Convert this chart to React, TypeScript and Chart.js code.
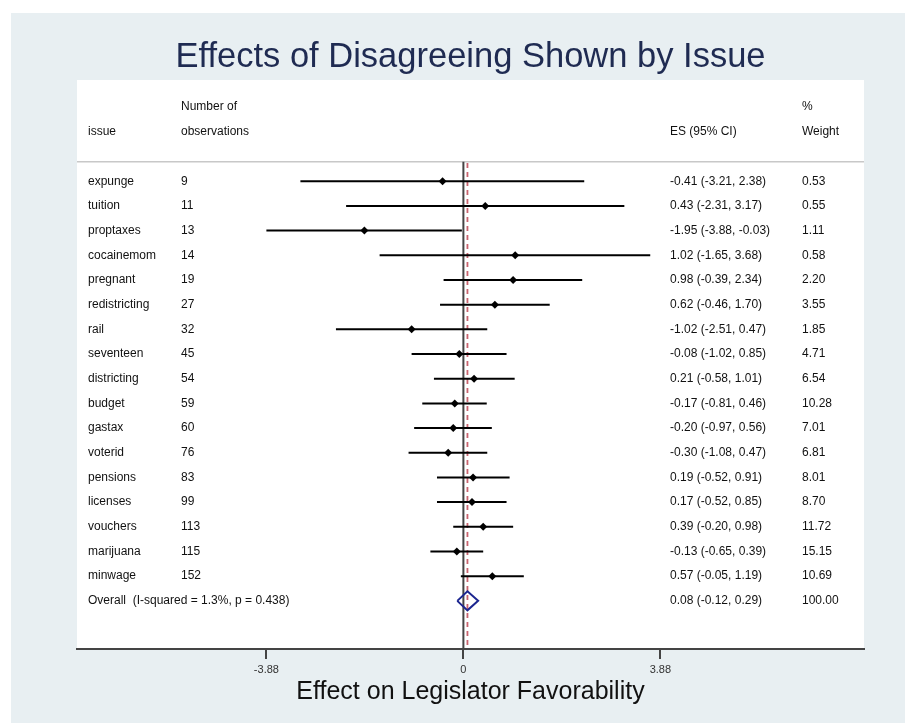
import React, { useEffect, useRef } from "react";
import { Chart, registerables } from "chart.js";

Chart.register(...registerables);

// ---------- data ----------
const issues = [
  "expunge", "tuition", "proptaxes", "cocainemom", "pregnant", "redistricting",
  "rail", "seventeen", "districting", "budget", "gastax", "voterid",
  "pensions", "licenses", "vouchers", "marijuana", "minwage",
];
const nObs = [9, 11, 13, 14, 19, 27, 32, 45, 54, 59, 60, 76, 83, 99, 113, 115, 152];
const es = [-0.41, 0.43, -1.95, 1.02, 0.98, 0.62, -1.02, -0.08, 0.21, -0.17, -0.2, -0.3, 0.19, 0.17, 0.39, -0.13, 0.57];
const ciLow = [-3.21, -2.31, -3.88, -1.65, -0.39, -0.46, -2.51, -1.02, -0.58, -0.81, -0.97, -1.08, -0.52, -0.52, -0.2, -0.65, -0.05];
const ciHigh = [2.38, 3.17, -0.03, 3.68, 2.34, 1.7, 0.47, 0.85, 1.01, 0.46, 0.56, 0.47, 0.91, 0.85, 0.98, 0.39, 1.19];
const weights = [0.53, 0.55, 1.11, 0.58, 2.2, 3.55, 1.85, 4.71, 6.54, 10.28, 7.01, 6.81, 8.01, 8.7, 11.72, 15.15, 10.69];

const overallLabel = "Overall  (I-squared = 1.3%, p = 0.438)";
const overallES = 0.08;
const overallLow = -0.12;
const overallHigh = 0.29;
const overallWeight = 100.0;

const xTicks = [-3.88, 0, 3.88];
const xTickLabels = ["-3.88", "0", "3.88"];

const titleText = "Effects of Disagreeing Shown by Issue";
const xAxisTitle = "Effect on Legislator Favorability";
const headerTop = ["", "Number of", "", "%"];
const headerBottom = ["issue", "observations", "ES (95% CI)", "Weight"];

// ---------- layout / style constants ----------
const FONT = "'Liberation Sans', Arial, Helvetica, sans-serif";
const X_MIN = -7.61;
const X_MAX = 7.89;
const Y_MIN = -4.1;
const Y_MAX = 18.95;
const HEADER_ROW_TOP = -3;
const HEADER_ROW_BOTTOM = -2;
const SEPARATOR_ROW = -0.79;
const DIAMOND_HALF = 0.385;
const COL_OFFSETS = [11, 104, 593, 725]; // px from chart-area left

const fmt = (v: number) => v.toFixed(2);

const bgPlugin = {
  id: "bgPlugin",
  beforeDraw(chart: any) {
    const { ctx, chartArea, width, height } = chart;
    ctx.save();
    ctx.fillStyle = "#ffffff";
    ctx.fillRect(0, 0, width, height);
    ctx.fillStyle = "#e8eff2";
    ctx.fillRect(11, 13, width - 11, height - 13);
    ctx.fillStyle = "#ffffff";
    ctx.fillRect(chartArea.left, chartArea.top, chartArea.right - chartArea.left, chartArea.bottom - chartArea.top);
    ctx.restore();
  },
};

const tablePlugin = {
  id: "tablePlugin",
  afterDraw(chart: any) {
    const { ctx, chartArea } = chart;
    const y = chart.scales.y;
    const colX = COL_OFFSETS.map((o) => chartArea.left + o);
    ctx.save();
    ctx.font = `12px ${FONT}`;
    ctx.fillStyle = "#111111";
    ctx.textBaseline = "middle";
    ctx.textAlign = "left";
    const yTop = y.getPixelForValue(HEADER_ROW_TOP);
    const yBot = y.getPixelForValue(HEADER_ROW_BOTTOM);
    headerTop.forEach((t, i) => t && ctx.fillText(t, colX[i], yTop));
    headerBottom.forEach((t, i) => t && ctx.fillText(t, colX[i], yBot));
    issues.forEach((name, i) => {
      const py = y.getPixelForValue(i);
      ctx.fillText(name, colX[0], py);
      ctx.fillText(String(nObs[i]), colX[1], py);
      ctx.fillText(`${fmt(es[i])} (${fmt(ciLow[i])}, ${fmt(ciHigh[i])})`, colX[2], py);
      ctx.fillText(fmt(weights[i]), colX[3], py);
    });
    const po = y.getPixelForValue(issues.length);
    ctx.fillText(overallLabel, colX[0], po);
    ctx.fillText(`${fmt(overallES)} (${fmt(overallLow)}, ${fmt(overallHigh)})`, colX[2], po);
    ctx.fillText(fmt(overallWeight), colX[3], po);
    ctx.restore();
  },
};

export default function App() {
  const ref = useRef<HTMLCanvasElement | null>(null);

  useEffect(() => {
    if (!ref.current) return;
    const nRows = issues.length;

    const ciSets = issues.map((_, i) => ({
      data: [
        { x: ciLow[i], y: i },
        { x: ciHigh[i], y: i },
      ],
      showLine: true,
      borderColor: "#000000",
      borderWidth: 2,
      pointRadius: 0,
      order: 3,
    }));

    const datasets: any[] = [
      {
        data: [
          { x: X_MIN, y: SEPARATOR_ROW },
          { x: X_MAX, y: SEPARATOR_ROW },
        ],
        showLine: true,
        borderColor: "#c8c8c8",
        borderWidth: 1.5,
        pointRadius: 0,
        order: 6,
      },
      {
        data: [
          { x: 0, y: SEPARATOR_ROW },
          { x: 0, y: Y_MAX },
        ],
        showLine: true,
        borderColor: "#444444",
        borderWidth: 2,
        pointRadius: 0,
        order: 4,
      },
      {
        data: [
          { x: overallES, y: SEPARATOR_ROW + 0.05 },
          { x: overallES, y: Y_MAX },
        ],
        showLine: true,
        borderColor: "#c8636e",
        borderWidth: 1.8,
        borderDash: [5, 4],
        pointRadius: 0,
        order: 5,
      },
      ...ciSets,
      {
        data: es.map((v, i) => ({ x: v, y: i })),
        showLine: false,
        pointStyle: "rectRot",
        pointRadius: 4,
        backgroundColor: "#000000",
        borderColor: "#000000",
        borderWidth: 0,
        order: 1,
      },
      {
        data: [
          { x: overallLow, y: nRows },
          { x: overallES, y: nRows - DIAMOND_HALF },
          { x: overallHigh, y: nRows },
          { x: overallES, y: nRows + DIAMOND_HALF },
          { x: overallLow, y: nRows },
        ],
        showLine: true,
        borderColor: "#1c2690",
        borderWidth: 2,
        pointRadius: 0,
        fill: false,
        order: 0,
      },
    ];

    const chart = new Chart(ref.current, {
      type: "scatter",
      data: { datasets },
      plugins: [bgPlugin, tablePlugin],
      options: {
        animation: false,
        responsive: false,
        devicePixelRatio: 1,
        events: [],
        layout: { padding: { left: 77, right: 41, top: 0, bottom: 18 } },
        plugins: {
          legend: { display: false },
          tooltip: { enabled: false },
          title: {
            display: true,
            text: titleText,
            color: "#1f2b52",
            font: { family: FONT, size: 34.5, weight: "normal", lineHeight: 1.2 },
            padding: { top: 36.3, bottom: 2.3 },
          },
        },
        scales: {
          x: {
            type: "linear",
            min: X_MIN,
            max: X_MAX,
            afterBuildTicks: (scale: any) => {
              scale.ticks = xTicks.map((v) => ({ value: v }));
            },
            grid: {
              display: true,
              drawOnChartArea: false,
              drawTicks: true,
              tickLength: 10,
              color: "#444444",
              lineWidth: 2,
            },
            border: { display: true, color: "#444444", width: 2 },
            ticks: {
              autoSkip: false,
              maxRotation: 0,
              padding: 5,
              color: "#333333",
              font: { family: FONT, size: 11, lineHeight: 1 },
              callback: (_v: any, idx: number) => xTickLabels[idx],
            },
            title: {
              display: true,
              text: xAxisTitle,
              color: "#111111",
              font: { family: FONT, size: 25, lineHeight: 1 },
              padding: { top: 0, bottom: 0 },
            },
          },
          y: {
            type: "linear",
            display: false,
            reverse: true,
            min: Y_MIN,
            max: Y_MAX,
          },
        },
      } as any,
    });
    return () => chart.destroy();
  }, []);

  return (
    <div style={{ position: "fixed", left: 0, top: 0, width: 905, height: 723 }}>
      <canvas ref={ref} width={905} height={723} style={{ display: "block", width: 905, height: 723 }} />
    </div>
  );
}
